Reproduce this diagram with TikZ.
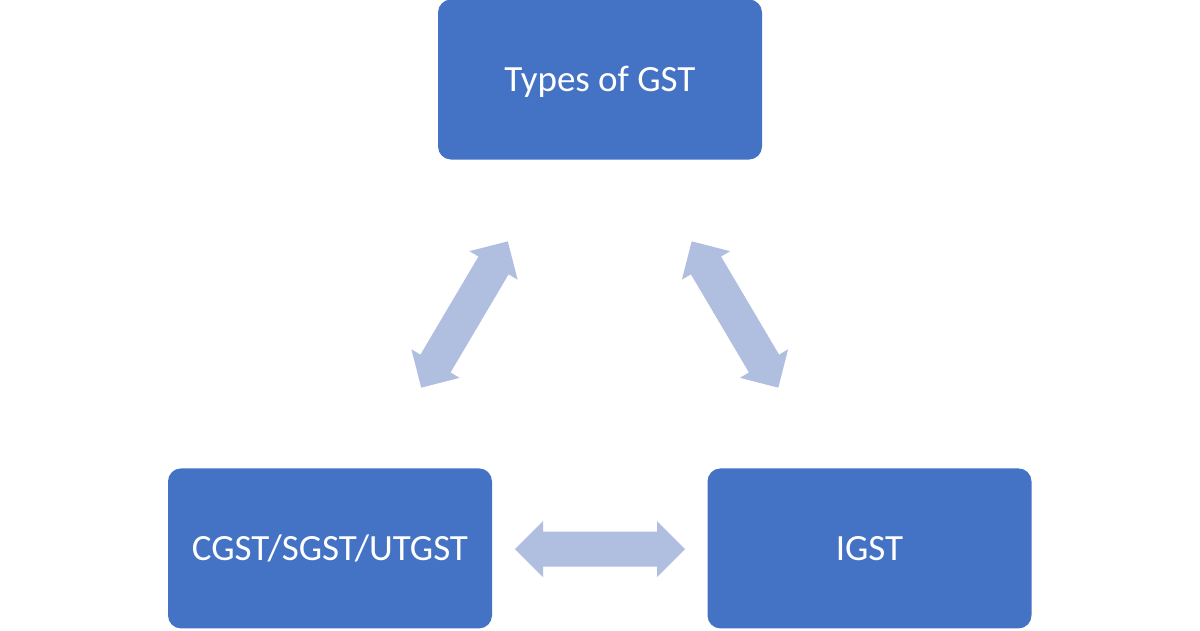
\documentclass[tikz,border=0pt]{standalone}
\usepackage{fontspec}
\setmainfont{Carlito}
\definecolor{boxblue}{HTML}{4472C4}
\definecolor{arrowblue}{HTML}{B0BEE0}
\tikzset{
  gstbox/.style={fill=boxblue, draw=none, rounded corners=13pt,
    minimum width=324pt, minimum height=160pt, inner sep=0pt, outer sep=0pt,
    text=white, font=\fontsize{37}{44}\selectfont, text height=24pt, text depth=0pt},
  blockarr/.style={fill=arrowblue, draw=none}
}
\newcommand\dblblockarrow[2]{%
  \path[blockarr, shift={(#1)}, rotate=#2]
    (-85,0) -- (-57,28) -- (-57,17.5) -- (57,17.5) -- (57,28) -- (85,0)
    -- (57,-28) -- (57,-17.5) -- (-57,-17.5) -- (-57,-28) -- cycle;}
\begin{document}
\begin{tikzpicture}[x=1pt, y=-1pt]
  \useasboundingbox[fill=white] (0,0) rectangle (1200,630);
  \node[gstbox] (types) at (600,79.5) {Types of GST};
  \node[gstbox] (cgst) at (330,548.4) {CGST/SGST/UTGST};
  \node[gstbox] (igst) at (869.5,548.4) {IGST};
  \coordinate (al) at (464.5,314.5);
  \coordinate (ar) at (735,314.5);
  \coordinate (ab) at (600,549);
  \dblblockarrow{al}{59.4}
  \dblblockarrow{ar}{-59.4}
  \dblblockarrow{ab}{0}
\end{tikzpicture}
\end{document}
